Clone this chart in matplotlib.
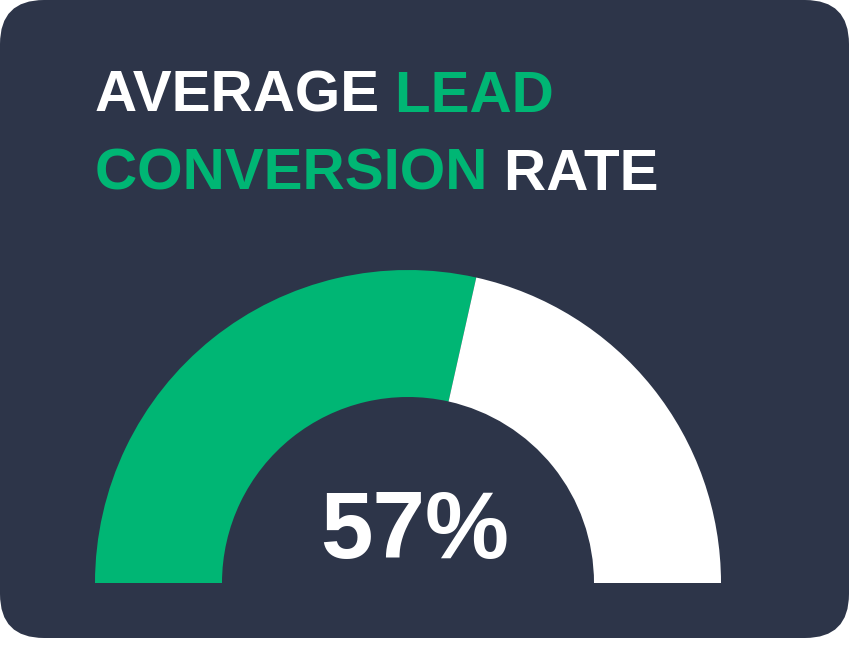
import matplotlib.pyplot as plt
from matplotlib.patches import Wedge, FancyBboxPatch

# data
value = 57  # percent
title_lines = [
    [("AVERAGE", "white"), ("LEAD", "green")],
    [("CONVERSION", "green"), ("RATE", "white")],
]

bg = '#2d3549'
green = '#00b674'
colors = {"white": "white", "green": green}

fig = plt.figure(figsize=(8.53, 6.52), dpi=100, facecolor='white')
ax = fig.add_axes([0, 0, 1, 1])
ax.set_xlim(0, 853)
ax.set_ylim(0, 652)
ax.set_aspect('equal')
ax.axis('off')

# card background
card = FancyBboxPatch((0, 14), 849, 638, boxstyle="round,pad=0,rounding_size=44",
                      facecolor=bg, edgecolor='none')
ax.add_patch(card)

# gauge
cx, cy = 408, 69
r_out, r_in = 313, 186
split = 180 - value / 100 * 180
ax.add_patch(Wedge((cx, cy), r_out, split, 180, width=r_out - r_in,
                   facecolor=green, edgecolor='none'))
ax.add_patch(Wedge((cx, cy), r_out, 0, split, width=r_out - r_in,
                   facecolor='white', edgecolor='none'))

ax.text(415, 94, f"{value}%", color='white', fontsize=68, fontweight='bold',
        family='Liberation Sans', ha='center', va='baseline')

# title, word by word
fig.canvas.draw()
renderer = fig.canvas.get_renderer()
baselines = [652 - 112, 652 - 190]
for line, yb in zip(title_lines, baselines):
    x = 95
    for word, c in line:
        t = ax.text(x, yb, word + " ", color=colors[c], fontsize=42,
                    fontweight='bold', family='Liberation Sans', va='baseline')
        bb = t.get_window_extent(renderer=renderer)
        x0, _ = ax.transData.inverted().transform((bb.x0, bb.y0))
        x1, _ = ax.transData.inverted().transform((bb.x1, bb.y0))
        x += x1 - x0

fig.savefig('out.png', dpi=100, facecolor='white')
